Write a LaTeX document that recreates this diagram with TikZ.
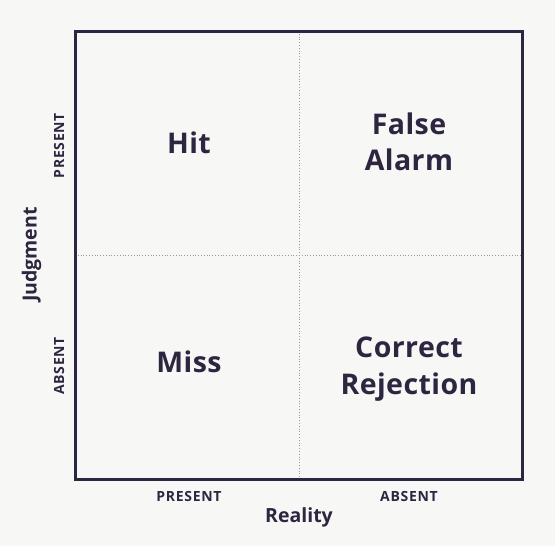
\documentclass[tikz,border=0pt]{standalone}
\usepackage{fontspec}
\setmainfont{Open Sans}
\begin{document}
\begin{tikzpicture}[x=1pt,y=-1pt,
  every node/.style={text=ink, inner sep=0pt, anchor=base},
  cell/.style={font=\fontsize{28.5}{36.5}\selectfont\bfseries\addfontfeature{LetterSpace=1.5}, align=center},
  tick/.style={font=\fontsize{14}{16}\selectfont\bfseries\addfontfeature{LetterSpace=5}},
  axis/.style={font=\fontsize{19.5}{22}\selectfont\bfseries},
  grid/.style={draw=gray!80, line width=0.8pt, dotted}]
\definecolor{ink}{HTML}{2E2540}
\definecolor{bg}{HTML}{F7F7F5}
\fill[bg] (0,0) rectangle (555,546);
\useasboundingbox (0,0) rectangle (555,546);
\coordinate (tl) at (75,31);
\coordinate (br) at (522,479);
\coordinate (vt) at (299,31);
\coordinate (vb) at (299,479);
\coordinate (hl) at (75,255);
\coordinate (hr) at (522,255);
\draw[grid] (vt) -- (vb);
\draw[grid] (hl) -- (hr);
\draw[ink, line width=3pt] (tl) rectangle (br);
\node[cell] (hit) at (189,153.3) {Hit};
\node[cell] (fa) at (409,170.7) {False\\Alarm};
\node[cell] (miss) at (189,372.3) {Miss};
\node[cell] (cr) at (409,394) {Correct\\Rejection};
\node[tick, rotate=90] (jp) at (64,145.5) {PRESENT};
\node[tick, rotate=90] (ja) at (64,366) {ABSENT};
\node[tick] (rp) at (189,501) {PRESENT};
\node[tick] (ra) at (409,501) {ABSENT};
\node[axis] (real) at (299,522) {Reality};
\node[axis, rotate=90] (judg) at (36.5,254.5) {Judgment};
\end{tikzpicture}
\end{document}
